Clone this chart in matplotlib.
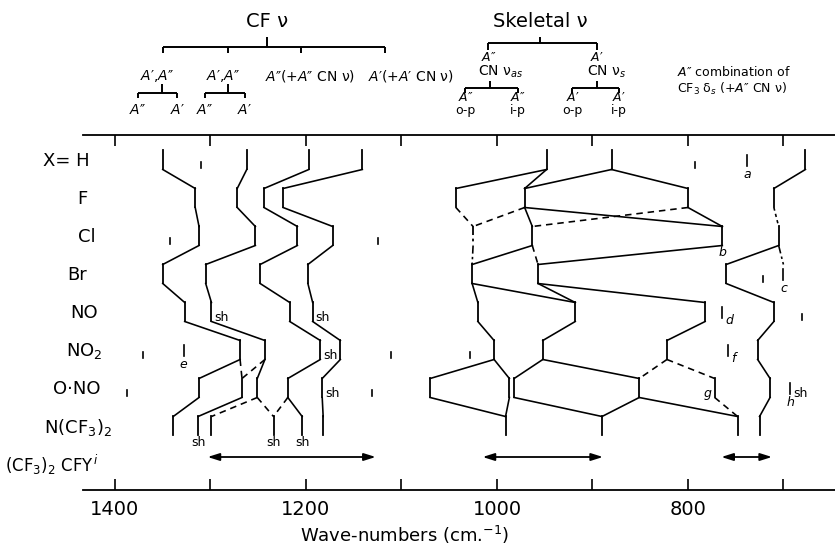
import matplotlib.pyplot as plt

# rows of the correlation diagram (X in CF3.CFX-type compounds)
rows = ['X= H', 'F', 'Cl', 'Br', 'NO', 'NO$_2$', 'O·NO', 'N(CF$_3$)$_2$',
        '(CF$_3$)$_2$ CFY$^{\\,i}$']

# CF stretching bands (cm-1), one per row H .. N(CF3)2, None = absent
cf_a = [1350, 1316, 1312, 1350, 1327, 1269, 1312, 1339]
cf_b = [1262, 1272, 1253, 1305, 1299, 1243, 1251, None]
cf_c = [1197, 1244, 1209, 1248, 1217, 1185, 1219, 1204]
cf_d = [1141, 1224, 1172, 1198, 1193, 1164, 1183, 1182]
# A'' combination of CF3 deformation
cf3_comb = [677, 710, 705, 760, 710, 727, 714, 725]
cf3_comb_links = ['-', ':', '-', '-', '-', '-', '-']

# bands that are not on one continuous trace: (row, cm-1, style)
extra_bands = [
    (6, 1267, '-'), (7, 1313, '-'), (7, 1299, '-'), (7, 1234, '-'),
    (0, 948, '-'), (0, 880, '-'),
    (1, 1043, '-'), (1, 971, '-'), (1, 800, '-'),
    (2, 1025, '-.'), (2, 963, '-'), (2, 764, '-'),
    (3, 1026, '-'), (3, 957, '-'),
    (4, 1020, '-'), (4, 918, '-'), (4, 782, '-'),
    (5, 1003, '-'), (5, 952, '-'), (5, 822, '-'),
    (6, 1070, '-'), (6, 987, '-'), (6, 982, '-'), (6, 851, '-'), (6, 772, '-'),
    (7, 991, '-'), (7, 890, '-'), (7, 748, '-'),
]
# correlations between row r and row r+1: (r, cm-1 in r, cm-1 in r+1, style)
extra_links = [
    (5, 1269, 1267, '--'), (5, 1243, 1267, '--'), (6, 1267, 1313, '-'),
    (6, 1251, 1299, '--'), (6, 1251, 1234, '--'), (6, 1219, 1234, '--'),
    (0, 948, 1043, '-'), (0, 948, 971, '-'), (0, 880, 971, '-'), (0, 880, 800, '-'),
    (1, 1043, 1025, '--'), (1, 971, 1025, '--'), (1, 971, 963, '-'),
    (1, 971, 764, '-'), (1, 800, 963, '--'), (1, 800, 764, '-'),
    (2, 1025, 1026, '-.'), (2, 963, 1026, '-'), (2, 963, 957, '--'), (2, 764, 957, '-'),
    (3, 1026, 1020, '-'), (3, 1026, 918, '-'), (3, 957, 918, '-'), (3, 957, 782, '-'),
    (4, 1020, 1003, '-'), (4, 918, 952, '-'), (4, 782, 822, '-'),
    (5, 1003, 1070, '-'), (5, 1003, 987, '-'), (5, 952, 982, '-'), (5, 952, 851, '-'),
    (5, 822, 851, '--'), (5, 822, 772, '--'),
    (6, 1070, 991, '-'), (6, 987, 991, '-'), (6, 982, 890, '-'), (6, 851, 890, '-'),
    (6, 851, 748, '-'), (6, 772, 748, '--'),
    (2, 705, 700, '-.'),
]

# weak bands (short ticks)
weak = [(0, 1310), (0, 793), (2, 1342), (2, 1125), (3, 721), (4, 681),
        (5, 1371), (5, 1111), (5, 1028), (6, 1387), (6, 1131)]
# footnoted bands: (row, cm-1, footnote, label side)
noted = [(0, 738, 'a', 'below'), (3, 700, 'c', 'below'), (4, 764, 'd', 'right'),
         (5, 1328, 'e', 'below'), (5, 758, 'f', 'right'), (6, 693, 'h', 'below')]
sh_right = [(4, 1299), (4, 1193), (5, 1185), (6, 1183), (6, 693)]
sh_below = [(7, 1313), (7, 1234), (7, 1204)]

# (CF3)2CFY ranges
ranges = [(1303, 1127), (1015, 889), (765, 712)]

# header assignments
cf_drops = [1350, 1282, 1205, 1117]
cf_labels = ['$\\mathit{A}$′,$\\mathit{A}$″', '$\\mathit{A}$′,$\\mathit{A}$″',
             '$\\mathit{A}$″(+$\\mathit{A}$″ CN ν)', '$\\mathit{A}$′(+$\\mathit{A}$′ CN ν)']
cf_label_x = [1356, 1287, 1196, 1090]
cf_splits = [(1351, 1376, 1335), (1282, 1306, 1264)]
sk_drops = [1009, 895]
sk_labels = ['CN ν$_{as}$', 'CN ν$_{s}$']
sk_sym = ['$\\mathit{A}$″', '$\\mathit{A}$′']
sk_splits = [(1007, 1033, 978), (895, 921, 872)]
sk_sub = ['o-p', 'i-p']

W, H = 835, 548
fig = plt.figure(figsize=(W / 100, H / 100), dpi=100)
ax = fig.add_axes([83 / W, 1 - 490 / H, 752 / W, (490 - 135) / H])
ax.set_xlim(1433.5, 646)
ax.set_ylim(490, 135)  # y in pixels from the top of the figure
PX = 1 / 0.955         # cm-1 per pixel

Y0, STEP, HALF = 160, 38, 9.5
LW = 1.3
LS = {'-': '-', '--': (0, (4, 3)), '-.': (0, (5, 2, 1.5, 2)), ':': (0, (2, 2))}


def ry(r):
    return Y0 + STEP * r


def band(r, w, ls='-'):
    ax.plot([w, w], [ry(r) - HALF, ry(r) + HALF], color='k', lw=LW, ls=LS[ls])


def link(r, wa, wb, ls='-'):
    ax.plot([wa, wb], [ry(r) + HALF, ry(r + 1) - HALF], color='k', lw=LW * 0.9, ls=LS[ls])


for tr in [cf_a, cf_b, cf_c, cf_d, cf3_comb]:
    styles = cf3_comb_links if tr is cf3_comb else ['-'] * (len(tr) - 1)
    for r, w in enumerate(tr):
        if w is not None:
            band(r, w)
    for r in range(len(tr) - 1):
        if tr[r] is not None and tr[r + 1] is not None:
            link(r, tr[r], tr[r + 1], styles[r])

for r, w, s in extra_bands:
    band(r, w, s)
for r, wa, wb, s in extra_links:
    link(r, wa, wb, s)

for r, w in weak:
    ax.plot([w, w], [ry(r) + 2, ry(r) + 8], color='k', lw=1.2)

note_kw = dict(fontsize=9, fontstyle='italic', va='center')
for r, w, t, side in noted:
    ax.plot([w, w], [ry(r) - 5, ry(r) + 6], color='k', lw=1.2)
    if side == 'below':
        ax.text(w, ry(r) + 15, t, ha='center', **note_kw)
    else:
        ax.text(w - 3 * PX, ry(r) + 9, t, ha='left', **note_kw)
ax.text(764, ry(2) + 17, 'b', ha='center', **note_kw)
ax.text(772 + 3 * PX, ry(6) + 6, 'g', ha='right', **note_kw)

for r, w in sh_right:
    ax.text(w - 3 * PX, ry(r) + 6, 'sh', ha='left', va='center', fontsize=9)
for r, w in sh_below:
    ax.text(w, ry(r) + 17, 'sh', ha='center', va='center', fontsize=9)

for w0, w1 in ranges:
    ax.annotate('', xy=(w1, 457), xytext=(w0, 457),
                arrowprops=dict(arrowstyle='<|-|>,head_length=0.7,head_width=0.22',
                                color='k', lw=1.3, shrinkA=0, shrinkB=0))

# row labels
label_x = [66, 82, 87, 77, 84, 84, 77, 78, 52]
label_fs = [13, 13, 13, 13, 13, 13, 13, 13, 12]
for r, (t, x, fs) in enumerate(zip(rows, label_x, label_fs)):
    fig.text(x / W, 1 - (ry(r) + 1) / H, t, ha='center', va='center', fontsize=fs)

# header brackets
kw = dict(color='k', lw=1.4, clip_on=False, solid_capstyle='butt')


def bracket(stem, top, bar, drop, xs):
    ax.plot([stem, stem], [top, bar], **kw)
    ax.plot([max(xs), min(xs)], [bar, bar], **kw)
    for x in xs:
        ax.plot([x, x], [bar, drop], **kw)


ax.text(1241, 22, 'CF ν', ha='center', va='center', fontsize=14)
bracket(1241, 37, 47, 53, cf_drops)
for t, x in zip(cf_labels, cf_label_x):
    ax.text(x, 76, t, ha='center', va='center', fontsize=10)
for stem, a, b in cf_splits:
    bracket(stem, 84, 93, 98, [a, b])
    ax.text(a, 110, '$\\mathit{A}$″', ha='center', va='center', fontsize=10)
    ax.text(b, 110, '$\\mathit{A}$′', ha='center', va='center', fontsize=10)

ax.text(955, 22, 'Skeletal ν', ha='center', va='center', fontsize=14)
bracket(955, 37, 43, 50, sk_drops)
for x, t, s in zip(sk_drops, sk_labels, sk_sym):
    ax.text(x, 58, s, ha='center', va='center', fontsize=9)
    ax.text(x + 10 * PX, 72, t, ha='left', va='center', fontsize=10)
for (stem, a, b), s in zip(sk_splits, sk_sym):
    bracket(stem, 81, 88, 93, [a, b])
    for x, sub in zip([a, b], sk_sub):
        ax.text(x, 98, s, ha='center', va='center', fontsize=9)
        ax.text(x, 111, sub, ha='center', va='center', fontsize=9)

ax.text(811, 72, '$\\mathit{A}$″ combination of', ha='left', va='center', fontsize=9)
ax.text(811, 89, 'CF$_3$ δ$_s$ (+$\\mathit{A}$″ CN ν)', ha='left', va='center', fontsize=9)

# axes: only top and bottom wave-number scales
for s in ['left', 'right']:
    ax.spines[s].set_visible(False)
for s in ['top', 'bottom']:
    ax.spines[s].set_linewidth(1.3)
ticks = list(range(1400, 600, -100))
ax.set_xticks(ticks)
ax.set_xticklabels([str(t) if t % 200 == 0 else '' for t in ticks])
ax.tick_params(axis='x', direction='in', length=8, width=1.2, top=True,
               labelsize=14, pad=7)
ax.set_yticks([])
fig.text(405 / W, 1 - 535 / H, 'Wave-numbers (cm.$^{-1}$)', ha='center', va='center',
         fontsize=13)

fig.savefig('out.png', dpi=100)
